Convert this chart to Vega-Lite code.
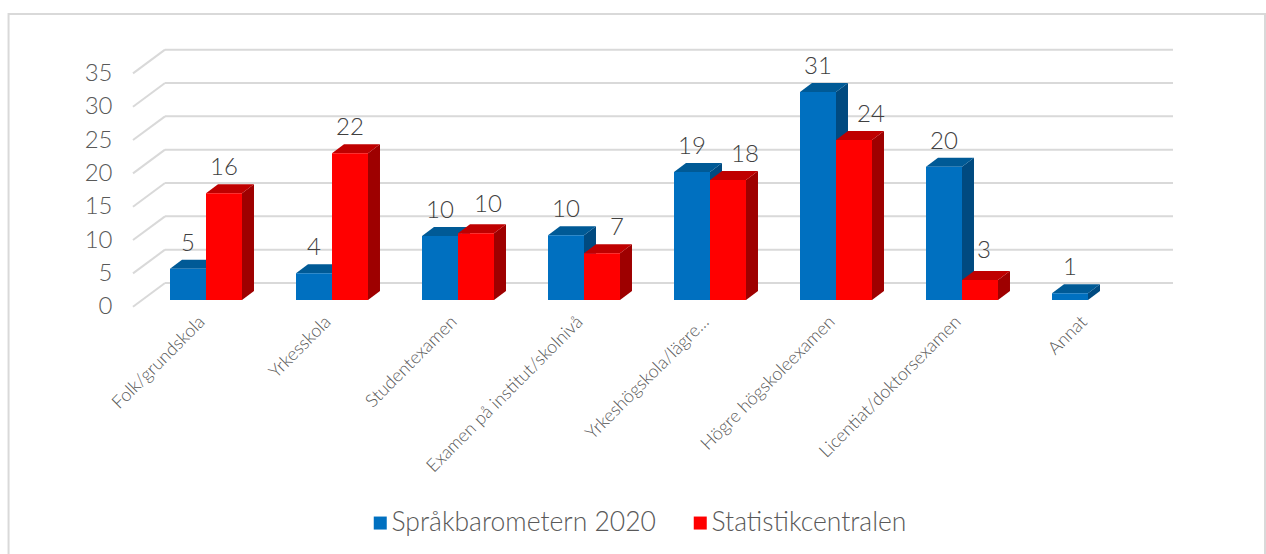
{
"$schema":"https://vega.github.io/schema/vega-lite/v6.json",
"width":1008,"height":233.33,
"autosize":{"type":"none"},
"padding":{"left":143,"top":66.67,"right":115,"bottom":254},
"background":"white",
"config":{"view":{"stroke":null},"font":"Lato","axis":{"labelOverlap":false,"labelSeparation":0,"labelBound":false,"labelFlush":false}},
"data":{"values":[
{"kategori":"Folk/grundskola","serie":"Språkbarometern 2020","varde":4.7},
{"kategori":"Yrkesskola","serie":"Språkbarometern 2020","varde":4},
{"kategori":"Studentexamen","serie":"Språkbarometern 2020","varde":9.6},
{"kategori":"Examen på institut/skolnivå","serie":"Språkbarometern 2020","varde":9.7},
{"kategori":"Yrkeshögskola/lägre...","serie":"Språkbarometern 2020","varde":19.2},
{"kategori":"Högre högskoleexamen","serie":"Språkbarometern 2020","varde":31.2},
{"kategori":"Licentiat/doktorsexamen","serie":"Språkbarometern 2020","varde":20},
{"kategori":"Annat","serie":"Språkbarometern 2020","varde":1},
{"kategori":"Folk/grundskola","serie":"Statistikcentralen","varde":16},
{"kategori":"Yrkesskola","serie":"Statistikcentralen","varde":22},
{"kategori":"Studentexamen","serie":"Statistikcentralen","varde":10},
{"kategori":"Examen på institut/skolnivå","serie":"Statistikcentralen","varde":7},
{"kategori":"Yrkeshögskola/lägre...","serie":"Statistikcentralen","varde":18},
{"kategori":"Högre högskoleexamen","serie":"Statistikcentralen","varde":24},
{"kategori":"Licentiat/doktorsexamen","serie":"Statistikcentralen","varde":3}
]},
"transform":[
{"calculate":"indexof(['Folk/grundskola','Yrkesskola','Studentexamen','Examen på institut/skolnivå','Yrkeshögskola/lägre...','Högre högskoleexamen','Licentiat/doktorsexamen','Annat'],datum.kategori)+0.5+(datum.serie==='Statistikcentralen'?0:-0.2857)","as":"x0"},
{"calculate":"datum.x0+0.2857","as":"x1"},
{"calculate":"datum.serie!=='Statistikcentralen'?0:datum.kategori==='Högre högskoleexamen'||datum.kategori==='Yrkeshögskola/lägre...'?0.135:datum.kategori==='Examen på institut/skolnivå'?0.119:datum.kategori==='Studentexamen'?0.095:datum.kategori==='Licentiat/doktorsexamen'?0.032:0","as":"lx"},
{"calculate":"datum.x0+0.14285+datum.lx","as":"xc"},
{"calculate":"datum.varde+(datum.serie!=='Statistikcentralen'?0:datum.kategori==='Studentexamen'?0.45:datum.kategori==='Licentiat/doktorsexamen'?0.6:0)","as":"yl"}
],
"layer":[
{"data":{"values":[{"ram":"frame"}]},
 "mark":{"type":"rect","fill":null,"filled":false,"stroke":"#d9d9d9","strokeWidth":2},
 "encoding":{
  "x":{"datum":-1.067,"type":"quantitative","scale":{"domain":[0,8],"nice":false,"zero":false},
   "axis":{"title":null,"domain":false,"ticks":false,"grid":false,"values":[0.5,1.5,2.5,3.5,4.5,5.5,6.5,7.5],
    "labelExpr":"['Folk/grundskola','Yrkesskola','Studentexamen','Examen på institut/skolnivå','Yrkeshögskola/lägre...','Högre högskoleexamen','Licentiat/doktorsexamen','Annat'][datum.value-0.5]",
    "labelAngle":-45,"labelAlign":"right","labelBaseline":"middle","labelPadding":19,"labelFontSize":18,"labelFontWeight":300,"labelColor":"#595959","labelOverlap":false,"labelBound":false,"labelFlush":false,"labelLimit":0,"labelOffset":-4}},
  "x2":{"datum":8.905},
  "y":{"datum":42.9,"type":"quantitative","scale":{"domain":[0,35],"nice":false},
   "axis":{"title":null,"domain":false,"ticks":false,"grid":false,"values":[0,5,10,15,20,25,30,35],"tickCount":8,"labelPadding":31,"labelFontSize":24,"labelFontWeight":300,"labelColor":"#595959","labelOffset":6.7,"labelOverlap":false,"labelBound":false,"labelFlush":false}},
  "y2":{"datum":-40}
 }},
{"data":{"values":[{"v":0},{"v":5},{"v":10},{"v":15},{"v":20},{"v":25},{"v":30},{"v":35}]},
 "mark":{"type":"rule","stroke":"#d9d9d9","strokeWidth":2,"xOffset":22,"x2Offset":22,"yOffset":-17,"y2Offset":-17},
 "encoding":{
  "x":{"datum":0,"type":"quantitative","scale":{"domain":[0,8],"nice":false,"zero":false}},
  "x2":{"datum":8},
  "y":{"field":"v","type":"quantitative","scale":{"domain":[0,35],"nice":false}},
  "y2":{"field":"v"}
 }},
{"data":{"values":[{"v":0},{"v":5},{"v":10},{"v":15},{"v":20},{"v":25},{"v":30},{"v":35}]},
 "mark":{"type":"rule","stroke":"#d9d9d9","strokeWidth":2,"xOffset":-10,"x2Offset":22,"yOffset":6.7,"y2Offset":-17},
 "encoding":{
  "x":{"datum":0,"type":"quantitative","scale":{"domain":[0,8],"nice":false,"zero":false}},
  "x2":{"datum":0},
  "y":{"field":"v","type":"quantitative","scale":{"domain":[0,35],"nice":false}},
  "y2":{"field":"v"}
 }},
{"transform":[
  {"calculate":"[0,1]","as":"d"},{"flatten":["d"]},
  {"calculate":"datum.x1+datum.d*0.0952","as":"sx"},
  {"calculate":"datum.varde+datum.d*1.35","as":"sy"},
  {"calculate":"datum.d*1.35","as":"sy2"}
 ],
 "mark":{"type":"area","orient":"vertical","interpolate":"linear","opacity":1},
 "encoding":{
  "x":{"field":"sx","type":"quantitative","scale":{"domain":[0,8],"nice":false,"zero":false}},
  "y":{"field":"sy","type":"quantitative","scale":{"domain":[0,35],"nice":false}},
  "y2":{"field":"sy2"},
  "detail":[{"field":"kategori"},{"field":"serie"}],
  "fill":{"condition":{"test":"datum.serie==='Statistikcentralen'","value":"#9e0000"},"value":"#004a80"}
 }},
{"transform":[
  {"calculate":"[0,1]","as":"d"},{"flatten":["d"]},
  {"calculate":"datum.x0+datum.d*0.0952","as":"tx"},
  {"calculate":"datum.x1+datum.d*0.0952","as":"tx2"},
  {"calculate":"datum.varde+datum.d*1.35","as":"ty"}
 ],
 "mark":{"type":"area","orient":"horizontal","interpolate":"linear","opacity":1},
 "encoding":{
  "x":{"field":"tx","type":"quantitative","scale":{"domain":[0,8],"nice":false,"zero":false}},
  "x2":{"field":"tx2"},
  "y":{"field":"ty","type":"quantitative","scale":{"domain":[0,35],"nice":false}},
  "detail":[{"field":"kategori"},{"field":"serie"}],
  "fill":{"condition":{"test":"datum.serie==='Statistikcentralen'","value":"#bf0000"},"value":"#005a96"}
 }},
{"mark":{"type":"bar"},
 "encoding":{
  "x":{"field":"x0","type":"quantitative","scale":{"domain":[0,8],"nice":false,"zero":false}},
  "x2":{"field":"x1"},
  "y":{"field":"varde","type":"quantitative","scale":{"domain":[0,35],"nice":false}},
  "y2":{"datum":0},
  "color":{"field":"serie","type":"nominal","scale":{"domain":["Språkbarometern 2020","Statistikcentralen"],"range":["#0070c0","#ff0000"]},
   "legend":{"title":null,"orient":"none","direction":"horizontal","columns":2,"legendX":224,"legendY":443,"symbolType":"square","symbolSize":169,"symbolStrokeWidth":0,"labelFontSize":26.5,"labelFontWeight":300,"labelColor":"#595959","labelOffset":-2,"columnPadding":31,"labelLimit":0}}
 }},
{"mark":{"type":"text","fontSize":24,"fontWeight":300,"color":"#404040","baseline":"middle","align":"center","dy":-25},
 "encoding":{
  "x":{"field":"xc","type":"quantitative","scale":{"domain":[0,8],"nice":false,"zero":false}},
  "y":{"field":"yl","type":"quantitative","scale":{"domain":[0,35],"nice":false}},
  "text":{"field":"varde","type":"quantitative","format":".0f"}
 }}
]
}
